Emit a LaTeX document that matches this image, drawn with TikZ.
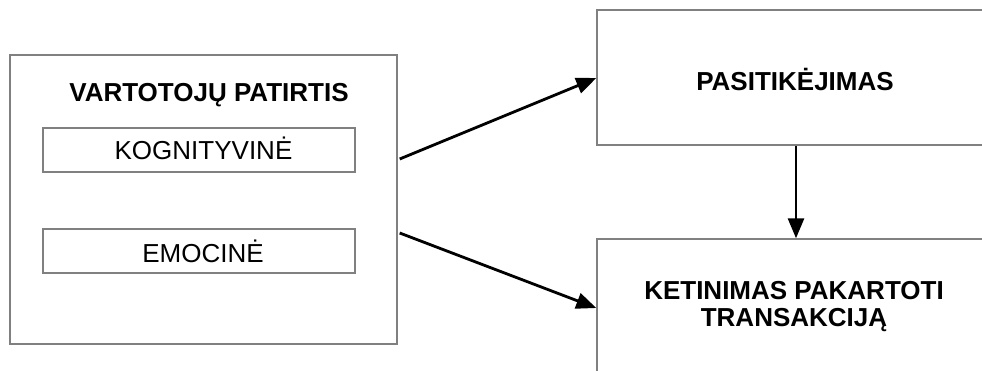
\documentclass[tikz,border=0pt]{standalone}
\usepackage{fontspec}
\setmainfont{Liberation Sans}
\usetikzlibrary{arrows.meta,calc}
\definecolor{framegray}{HTML}{808080}
\begin{document}
\begin{tikzpicture}[x=1pt,y=-1pt,
  frame/.style={draw=framegray,line width=1.4pt,inner sep=0pt},
  txt/.style={anchor=base,inner sep=0pt,align=center},
  title/.style={txt,font=\fontsize{26}{27}\selectfont\bfseries},
  label/.style={txt,font=\fontsize{26}{27}\selectfont},
  arr/.style={draw=black,line width=2.8pt,-{Triangle[length=20pt,width=16pt]}}]
  \useasboundingbox (0,0) rectangle (982,371);
  \clip (0,0) rectangle (982,371);
  \fill[white] (0,0) rectangle (982,371);

  % left group: customer experience with its two components
  \node[frame,minimum width=387,minimum height=289] (vp) at (203.5,199.5) {};
  \node[title] (vpt) at (209,102) {VARTOTOJŲ PATIRTIS};
  \node[frame,minimum width=312,minimum height=44] (kog) at (199,150) {};
  \node[label] (kogt) at (203.5,160) {KOGNITYVINĖ};
  \node[frame,minimum width=312,minimum height=44] (emo) at (199,251) {};
  \node[label] (emot) at (203,263) {EMOCINĖ};

  % right column: trust and repurchase intention
  \node[frame,minimum width=396,minimum height=135] (pas) at (795,77.5) {};
  \node[title] (past) at (795,91) {PASITIKĖJIMAS};
  \node[frame,minimum width=396,minimum height=180] (ket) at (795,329) {};
  \node[title] (kett1) at (794,299) {KETINIMAS PAKARTOTI};
  \node[title] (kett2) at (794,326) {TRANSAKCIJĄ};

  % connectors
  \draw[arr] ($(vp.east)+(2,-40.5)$) -- ($(pas.west)+(0,0.5)$);
  \draw[arr] ($(vp.east)+(2,33.5)$) -- ($(ket.west)+(0,-21)$);
  \draw[arr] ($(pas.south)+(1,0)$) -- ($(ket.north)+(1,0)$);
\end{tikzpicture}
\end{document}
